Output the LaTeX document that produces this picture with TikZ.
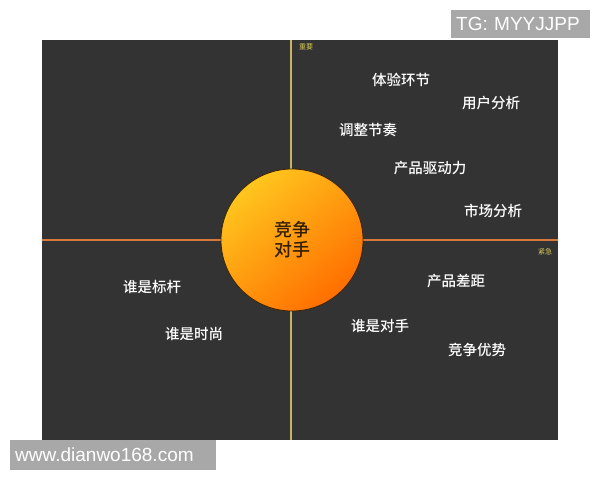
\documentclass[tikz,border=0pt]{standalone}
\usepackage{fontspec}
\setmainfont{Liberation Sans}
\newfontfamily\cjk{Noto Sans CJK SC}
\newfontfamily\cjkmed{Noto Sans CJK SC Medium}
\usetikzlibrary{positioning}
\definecolor{panel}{RGB}{51,51,51}
\definecolor{vaxis}{RGB}{200,180,100}
\definecolor{haxis}{RGB}{215,120,60}
\definecolor{note}{RGB}{215,205,90}
\definecolor{sunlight}{RGB}{255,198,30}
\definecolor{sunmid}{RGB}{255,170,10}
\definecolor{sundark}{RGB}{255,110,0}
\definecolor{sunrim}{RGB}{60,35,0}
\definecolor{suntext}{RGB}{50,30,0}
\definecolor{wgray}{RGB}{168,168,168}
\tikzset{item/.style={text=white,font=\cjkmed\fontsize{14.5}{16}\selectfont,inner sep=0pt}}
\tikzset{axisnote/.style={text=note,font=\cjk\fontsize{7}{8}\selectfont,inner sep=0pt}}
\tikzset{wmark/.style={fill=wgray,text=white,align=left,inner xsep=5pt,inner ysep=0pt,font=\fontsize{19}{21}\selectfont}}

\begin{document}
\begin{tikzpicture}[x=1pt,y=-1pt]
        \useasboundingbox[fill=white] (0,0) rectangle (600,480);
        \fill[panel] (42,40) rectangle (558,440);

        % axes
        \coordinate (top) at (291,40);
        \coordinate (bottom) at (291,440);
        \coordinate (left) at (42,240);
        \coordinate (right) at (558,240);
        \draw[vaxis,line width=2pt] (top) -- (bottom);
        \draw[haxis,line width=2pt] (left) -- (right);
        \node[axisnote] (important) at (306,47) {重要};
        \node[axisnote] (urgent) at (545,252) {紧急};

        % centre
        \node[circle,draw=sunrim,line width=0.8pt,minimum size=142pt,
              top color=sunlight,middle color=sunmid,bottom color=sundark,shading angle=40,
              align=center,text=suntext,font=\cjkmed\fontsize{18}{20}\selectfont]
              (core) at (292,240) {竞争\\对手};

        % items
        \node[item] (exp)    at (401,80)  {体验环节};
        \node[item] (user)   at (491,103) {用户分析};
        \node[item] (pace)   at (368,130) {调整节奏};
        \node[item] (drive)  at (430,168) {产品驱动力};
        \node[item] (market) at (493,211) {市场分析};
        \node[item] (gap)    at (456,281) {产品差距};
        \node[item] (rival)  at (380,326) {谁是对手};
        \node[item] (edge)   at (477,350) {竞争优势};
        \node[item] (bench)  at (152,287) {谁是标杆};
        \node[item] (trend)  at (194,334) {谁是时尚};

        % watermarks
        \node[wmark,anchor=north west,text width=129pt,minimum height=28pt] (tg) at (451,10) {TG: MYYJJPP};
        \node[wmark,anchor=north west,text width=196pt,minimum height=30pt] (site) at (10,440) {www.dianwo168.com};
\end{tikzpicture}
\end{document}
